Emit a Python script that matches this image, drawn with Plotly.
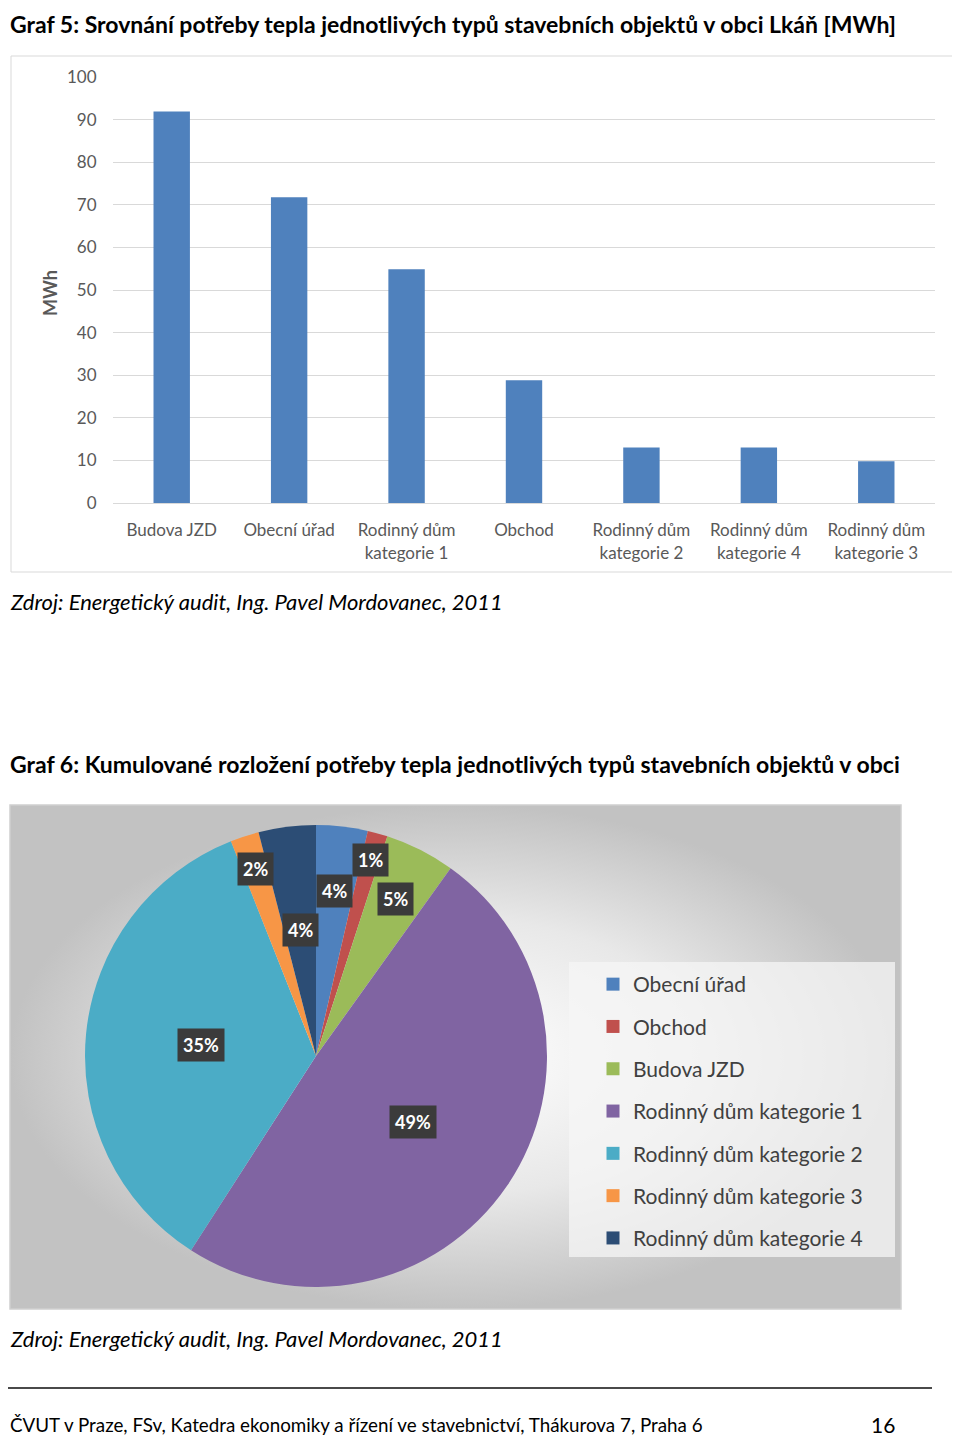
import math
import plotly.graph_objects as go

# target page size and the page offset of the drawing area (body margin)
PAGE_W, PAGE_H = 960, 1438
OFF_X, OFF_Y = 8, 8
W, H = PAGE_W - OFF_X, PAGE_H - OFF_Y

# ---------------- data ----------------
bar_categories = [
    "Budova JZD",
    "Obecní úřad",
    "Rodinný dům<br>kategorie 1",
    "Obchod",
    "Rodinný dům<br>kategorie 2",
    "Rodinný dům<br>kategorie 4",
    "Rodinný dům<br>kategorie 3",
]
bar_values = [91.9, 71.8, 54.9, 28.8, 13.0, 13.0, 9.8]
y_tick_values = [0, 10, 20, 30, 40, 50, 60, 70, 80, 90, 100]

pie_labels = [
    "Obecní úřad",
    "Obchod",
    "Budova JZD",
    "Rodinný dům kategorie 1",
    "Rodinný dům kategorie 2",
    "Rodinný dům kategorie 3",
    "Rodinný dům kategorie 4",
]
pie_values = [3.6, 1.4, 4.9, 49.2, 34.9, 2.0, 4.0]
pie_colors = ["#4F81BD", "#C0504D", "#9BBB59", "#8064A2", "#4BACC6", "#F79646", "#2C4D75"]
# radial position of each percentage label (fraction of radius) - style
label_radius = [0.72, 0.88, 0.76, 0.51, 0.50, 0.85, 0.55]

title1 = "Graf 5: Srovnání potřeby tepla jednotlivých typů stavebních objektů v obci Lkáň [MWh]"
title2 = "Graf 6: Kumulované rozložení potřeby tepla jednotlivých typů stavebních objektů v obci"
source = "Zdroj: Energetický audit, Ing. Pavel Mordovanec, 2011"
footer = "ČVUT v Praze, FSv, Katedra ekonomiky a řízení ve stavebnictví, Thákurova 7, Praha 6"
page_no = "16"

FONT = "Lato"


def px(x):
    return (x - OFF_X) / W


def py(y):
    return 1 - (y - OFF_Y) / H


fig = go.Figure()

# ---------------- bar chart ----------------
fig.add_trace(go.Bar(
    x=bar_categories, y=bar_values,
    marker=dict(color="#4F81BD", line=dict(width=0)),
    xaxis="x", yaxis="y", showlegend=False, hoverinfo="x+y",
))

# ---------------- pie background (gradient) ----------------
fig.add_trace(go.Scatter(
    x=[0, 1, 1, 0, 0], y=[0, 0, 1, 1, 0],
    mode="lines", fill="toself",
    fillgradient=dict(type="radial", colorscale=[[0, "#ffffff"], [0.55, "#e8e8e8"], [1, "#c2c2c2"]]),
    line=dict(width=0),
    xaxis="x2", yaxis="y2", showlegend=False, hoverinfo="skip",
))

# ---------------- pie ----------------
pie_x0, pie_x1 = 85, 547
pie_y0, pie_y1 = 825, 1287
fig.add_trace(go.Pie(
    labels=pie_labels, values=pie_values,
    marker=dict(colors=pie_colors, line=dict(width=0)),
    sort=False, direction="clockwise", rotation=0,
    textinfo="none", showlegend=False, automargin=False,
    domain=dict(x=[px(pie_x0), px(pie_x1)], y=[py(pie_y1), py(pie_y0)]),
))

# legend entries
for lab, col in zip(pie_labels, pie_colors):
    fig.add_trace(go.Scatter(
        x=[None], y=[None], mode="markers",
        marker=dict(symbol="square", size=13, color=col, line=dict(width=0)),
        name=lab, legendgroup=lab, xaxis="x2", yaxis="y2",
    ))

# percentage label annotations computed from data
total = sum(pie_values)
cx = (pie_x0 + pie_x1) / 2
cy = (pie_y0 + pie_y1) / 2
r = min(pie_x1 - pie_x0, pie_y1 - pie_y0) / 2
annotations = []
cum = 0.0
for v, f in zip(pie_values, label_radius):
    mid = (cum + v / 2) / total * 2 * math.pi
    cum += v
    lx = cx + f * r * math.sin(mid)
    ly = cy - f * r * math.cos(mid)
    annotations.append(dict(
        x=px(lx), y=py(ly),
        text=f"{round(v / total * 100)}%",
        font=dict(family=FONT, size=18, color="white", weight="bold"),
        bgcolor="#3b3b3b", borderpad=5,
        xanchor="center", yanchor="middle",
    ))

# texts
annotations += [
    dict(x=0, y=1, text=f"<b>{title1}</b>", xanchor="left", yanchor="top",
         font=dict(family=FONT, size=23, color="#000000")),
    dict(x=px(50), y=py(293), text="<b>MWh</b>", textangle=-90, xanchor="center", yanchor="middle",
         font=dict(family=FONT, size=18, color="#595959")),
    dict(x=px(8), y=py(601), text=f"<i>{source}</i>", xanchor="left", yanchor="middle",
         font=dict(family=FONT, size=22, color="#000000")),
    dict(x=0, y=py(764), text=f"<b>{title2}</b>", xanchor="left", yanchor="middle",
         font=dict(family=FONT, size=23, color="#000000")),
    dict(x=0, y=py(1338), text=f"<i>{source}</i>", xanchor="left", yanchor="middle",
         font=dict(family=FONT, size=22, color="#000000")),
    dict(x=0, y=py(1424), text=footer, xanchor="left", yanchor="middle",
         font=dict(family=FONT, size=18.8, color="#000000")),
    dict(x=px(883), y=py(1424), text=page_no, xanchor="center", yanchor="middle",
         font=dict(family=FONT, size=21, color="#000000")),
]
for a in annotations:
    a.setdefault("xref", "paper")
    a.setdefault("yref", "paper")
    a.setdefault("showarrow", False)

shapes = [
    # bar chart frame
    dict(type="rect", xref="paper", yref="paper", x0=px(11), x1=px(957), y0=py(572), y1=py(56),
         line=dict(color="#d9d9d9", width=1), fillcolor="rgba(0,0,0,0)", layer="below"),
    # pie frame
    dict(type="rect", xref="paper", yref="paper", x0=px(10), x1=px(901), y0=py(1309), y1=py(805),
         line=dict(color="#d0d0d0", width=1.5), fillcolor="rgba(0,0,0,0)", layer="above"),
    # legend box
    dict(type="rect", xref="paper", yref="paper", x0=px(569), x1=px(895), y0=py(1257), y1=py(962),
         line=dict(width=0), fillcolor="rgba(245,245,245,0.75)", layer="above"),
    # footer line
    dict(type="line", xref="paper", yref="paper", x0=px(0), x1=px(932), y0=py(1388), y1=py(1388),
         line=dict(color="#4a4a4a", width=2)),
]

fig.update_layout(
    template="none",
    width=W, height=H, autosize=False,
    margin=dict(l=0, r=0, t=0, b=0, pad=0, autoexpand=False),
    paper_bgcolor="white", plot_bgcolor="rgba(0,0,0,0)",
    font=dict(family=FONT),
    bargap=0.69,
    xaxis=dict(
        domain=[px(113), px(935)], type="category", range=[-0.5, 6.5], automargin=False,
        showgrid=False, showline=False, zeroline=False,
        ticks="outside", ticklen=12, tickcolor="rgba(0,0,0,0)",
        tickfont=dict(family=FONT, size=17, color="#595959"),
        fixedrange=True,
    ),
    yaxis=dict(
        domain=[py(503), py(77)], range=[0, 100], tickvals=y_tick_values, automargin=False,
        showgrid=True, gridcolor="#d9d9d9", gridwidth=1,
        zeroline=True, zerolinecolor="#d9d9d9", zerolinewidth=1,
        showline=False, ticks="outside", ticklen=12, tickcolor="rgba(0,0,0,0)",
        tickfont=dict(family=FONT, size=17, color="#595959"),
        fixedrange=True,
    ),
    xaxis2=dict(domain=[px(10), px(901)], range=[0, 1], visible=False, fixedrange=True,
                anchor="y2", automargin=False),
    yaxis2=dict(domain=[py(1309), py(805)], range=[0, 1], visible=False, fixedrange=True,
                anchor="x2", automargin=False),
    legend=dict(
        x=px(593), y=py(964), xanchor="left", yanchor="top",
        bgcolor="rgba(0,0,0,0)", borderwidth=0,
        font=dict(family=FONT, size=21, color="#404040"),
        tracegroupgap=12, itemclick=False, itemdoubleclick=False,
    ),
    annotations=annotations,
    shapes=shapes,
)

fig.write_html("out.html")
